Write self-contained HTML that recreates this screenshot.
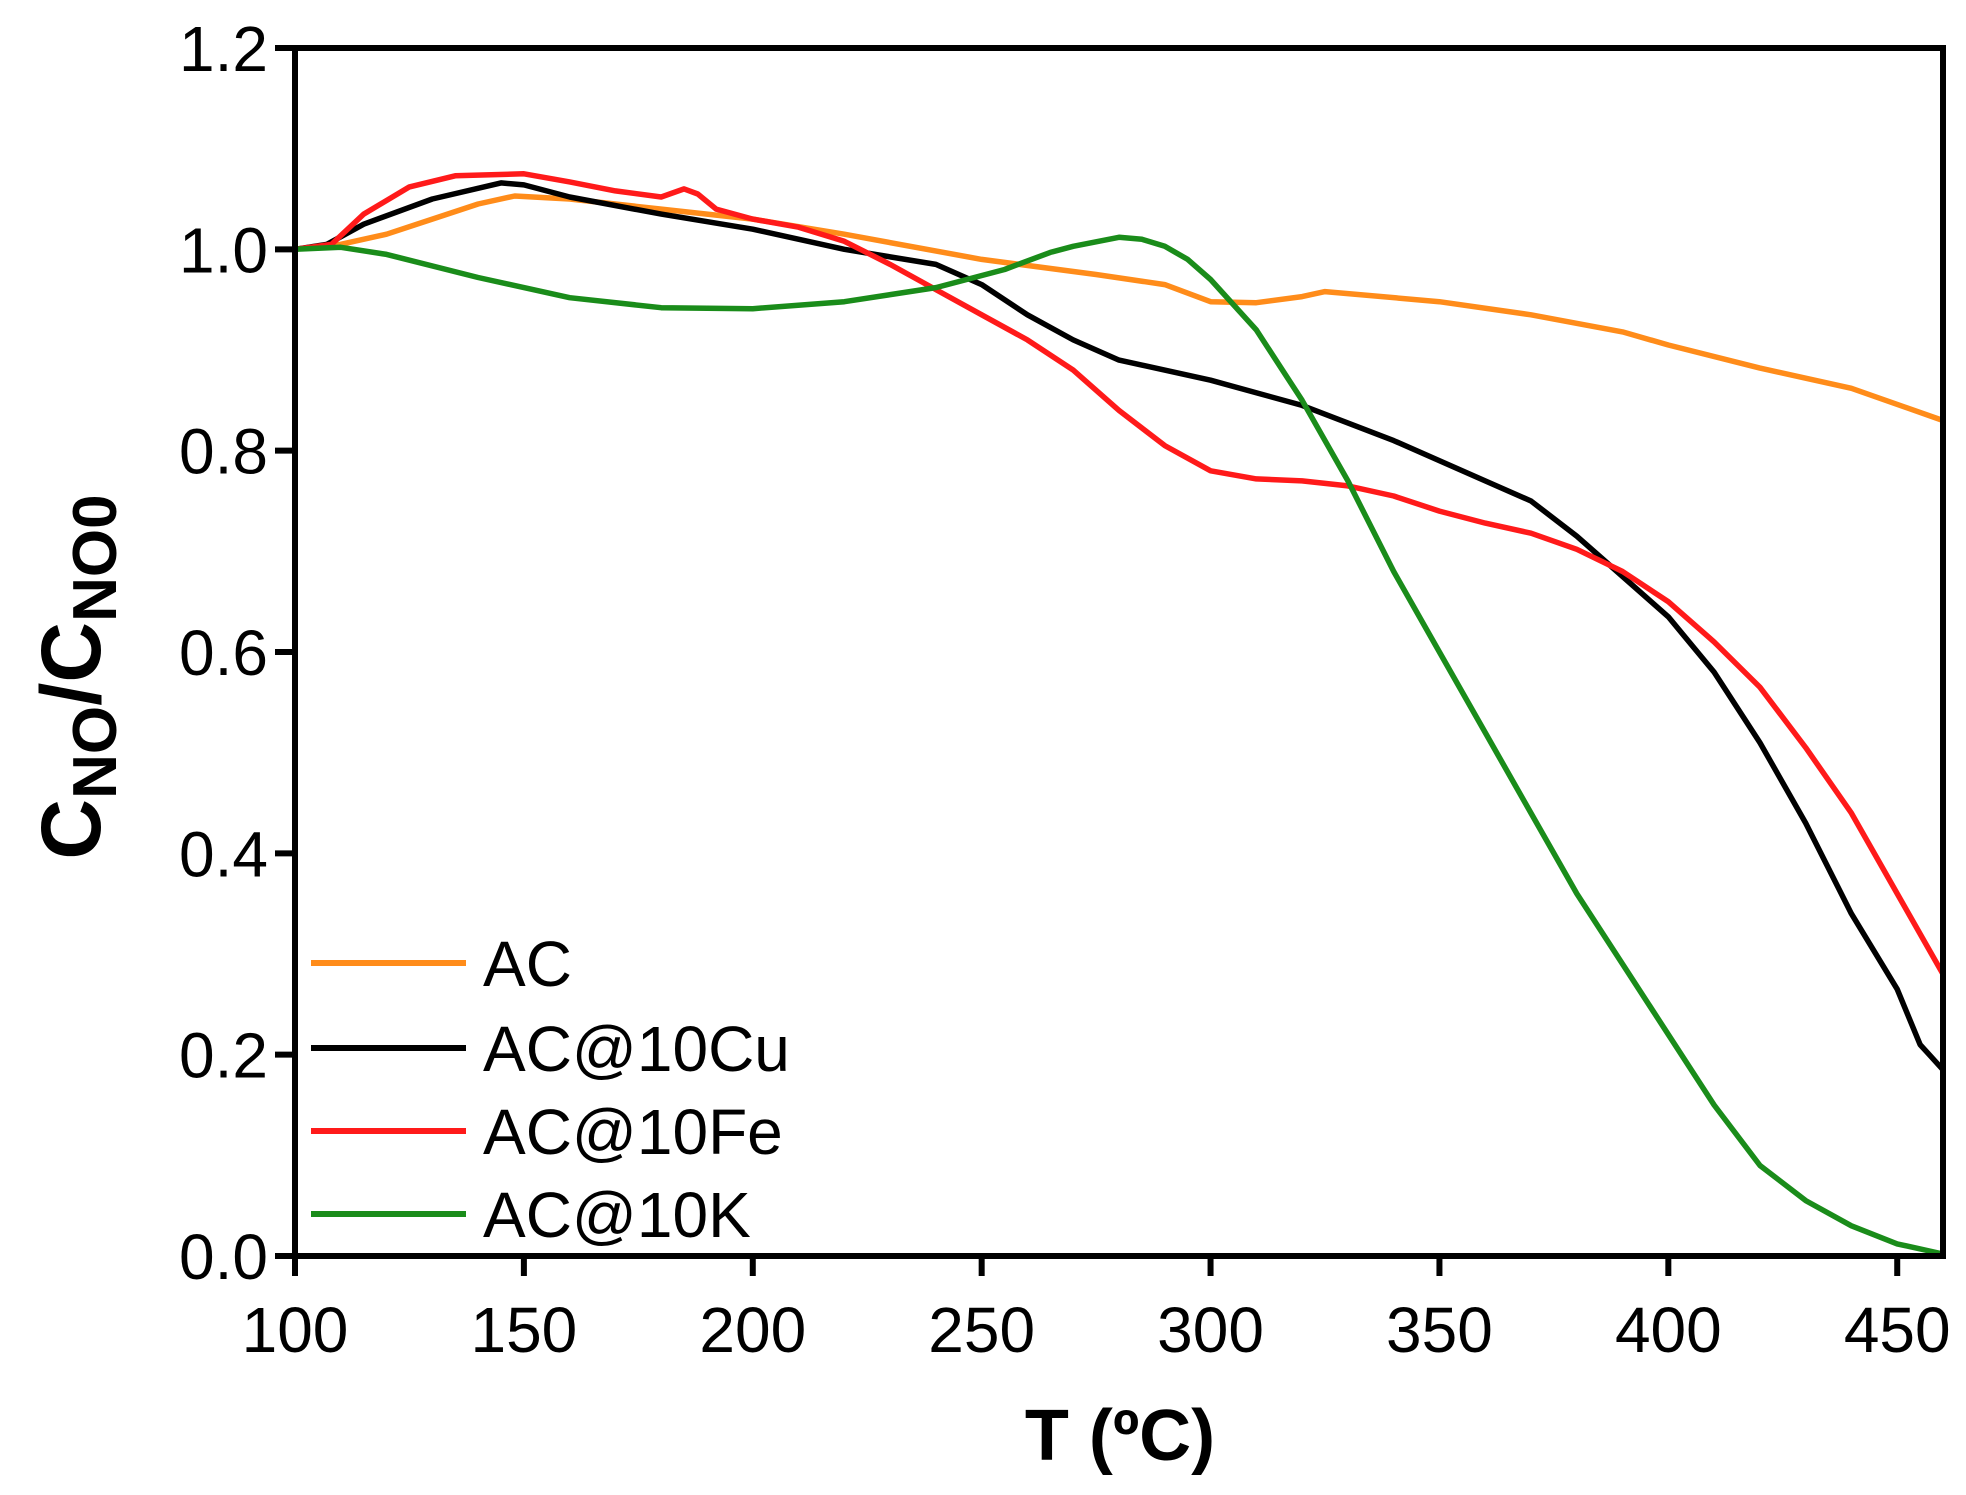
<!DOCTYPE html>
<html><head><meta charset="utf-8"><style>
html,body{margin:0;padding:0;background:#fff;}
svg{display:block;font-family:"Liberation Sans",Arial,sans-serif;}
</style></head><body>
<svg id="chart" width="1966" height="1495" viewBox="0 0 1966 1495">
<g id="plot"></g>
<g id="axes"></g>
<g id="legend"></g>
<text x="1120" y="1460" text-anchor="middle" font-size="72" font-weight="bold">T (ºC)</text>
<text transform="translate(100,677) rotate(-90)" text-anchor="middle" font-size="84" font-weight="bold">C<tspan font-size="62" dy="16">NO</tspan><tspan dy="-16">/C</tspan><tspan font-size="62" dy="16">NO0</tspan></text>
</svg>
<script>
const xTicks=[100,150,200,250,300,350,400,450];
const yTicks=[0.0,0.2,0.4,0.6,0.8,1.0,1.2];
const seriesNames=["AC","AC@10Cu","AC@10Fe","AC@10K"];
const acX=[100,110,120,130,140,148,160,180,200,220,250,275,290,300,310,320,325,350,370,390,400,420,440,460];
const acY=[1.0,1.005,1.015,1.03,1.045,1.053,1.05,1.04,1.03,1.015,0.99,0.975,0.965,0.948,0.947,0.953,0.958,0.948,0.935,0.918,0.905,0.882,0.862,0.83];
const cuX=[100,107,115,130,145,150,160,180,200,220,240,250,260,270,280,300,320,340,360,370,380,390,400,410,420,430,440,450,455,457,460];
const cuY=[1.0,1.005,1.025,1.05,1.066,1.064,1.052,1.035,1.02,1.0,0.985,0.965,0.935,0.91,0.89,0.87,0.845,0.81,0.77,0.75,0.715,0.675,0.635,0.58,0.51,0.43,0.34,0.265,0.21,0.2,0.185];
const feX=[100,108,115,125,135,150,160,170,180,185,188,192,200,210,220,230,240,250,260,270,280,290,300,310,320,330,340,350,360,370,380,390,400,410,420,430,440,450,460];
const feY=[1.0,1.005,1.035,1.062,1.073,1.075,1.067,1.058,1.052,1.06,1.055,1.04,1.03,1.022,1.008,0.985,0.96,0.935,0.91,0.88,0.84,0.805,0.78,0.772,0.77,0.765,0.755,0.74,0.728,0.718,0.702,0.68,0.65,0.61,0.565,0.505,0.44,0.36,0.28];
const kX=[100,110,120,140,160,180,200,220,240,255,265,270,280,285,290,295,300,310,320,330,340,350,360,370,380,390,400,410,420,430,440,450,460];
const kY=[1.0,1.002,0.995,0.972,0.952,0.942,0.941,0.948,0.962,0.98,0.997,1.003,1.012,1.01,1.003,0.99,0.97,0.92,0.85,0.77,0.68,0.6,0.52,0.44,0.36,0.29,0.22,0.15,0.09,0.055,0.03,0.012,0.002];
const colors=["#ff8c1a","#000000","#ff1a1a","#1a8c1a"];
const NS="http://www.w3.org/2000/svg";
const X0=295,X1=1943,Y0=1256,Y1=48;
function sx(v){return X0+(v-100)/(460-100)*(X1-X0);}
function sy(v){return Y0-(v-0)/(1.2-0)*(Y0-Y1);}
function mk(tag,attrs,parent){const e=document.createElementNS(NS,tag);for(const k in attrs)e.setAttribute(k,attrs[k]);parent.appendChild(e);return e;}
const plot=document.getElementById('plot'),axes=document.getElementById('axes'),legend=document.getElementById('legend');
const sets=[[acX,acY],[cuX,cuY],[feX,feY],[kX,kY]];
const slugs=["ac","ac-10cu","ac-10fe","ac-10k"];
sets.forEach((s,i)=>{
  const pts=s[0].map((x,j)=>sx(x).toFixed(1)+","+sy(s[1][j]).toFixed(1)).join(" ");
  const pl=mk('polyline',{points:pts,fill:"none",stroke:colors[i],"stroke-width":5.5,"stroke-linejoin":"round","stroke-linecap":"round"},plot);
  
  
});
const frame=mk('rect',{x:X0,y:Y1,width:X1-X0,height:Y0-Y1,fill:"none",stroke:"#000","stroke-width":6},axes);


xTicks.forEach(t=>{
  const x=sx(t);
  const l=mk('line',{x1:x,y1:Y0,x2:x,y2:Y0+20,stroke:"#000","stroke-width":6},axes);
  
  
  const tx=mk('text',{x:x,y:1352,"text-anchor":"middle","font-size":64},axes);
  tx.textContent=t;
  
  
});
yTicks.forEach(t=>{
  const y=sy(t);
  const l=mk('line',{x1:X0-20,y1:y,x2:X0,y2:y,stroke:"#000","stroke-width":6},axes);
  
  
  const tx=mk('text',{x:268,y:y+23,"text-anchor":"end","font-size":64},axes);
  tx.textContent=t.toFixed(1);
  
  
});
const legY=[963,1048,1131,1214];
seriesNames.forEach((n,i)=>{
  const g=mk('g',{},legend);
  
  
  mk('line',{x1:311,y1:legY[i],x2:466,y2:legY[i],stroke:colors[i],"stroke-width":6},g);
  const tx=mk('text',{x:483,y:legY[i]+23,"font-size":64},g);
  tx.textContent=n;
});
</script>
</body></html>
